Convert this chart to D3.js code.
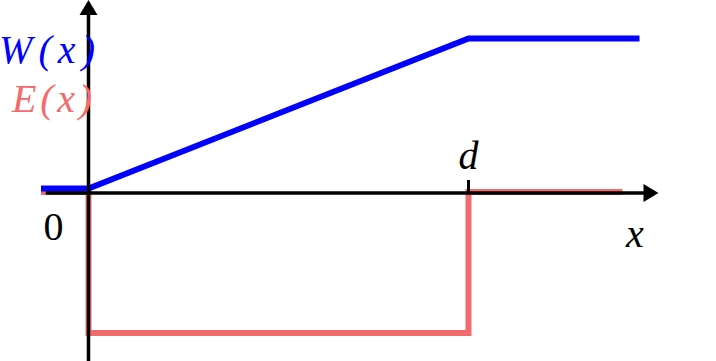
<!DOCTYPE html>
<html>
<head>
<meta charset="utf-8">
<script src="https://cdn.jsdelivr.net/npm/d3@7"></script>
<style>
  body { margin: 0; background: #fff; }
  svg { display: block; }
  text { font-family: "Liberation Serif", "Times New Roman", serif; }
</style>
</head>
<body>
<div id="chart"></div>
<script>
// W(x): ramps from 0 to a plateau at x = d
var wX = [-0.5, 0, 4, 5.8];
var wY = [0.047, 0.047, 1.6, 1.6];
// E(x): negative step between 0 and d
var eX = [-0.5, 0, 0, 4, 4, 5.62];
var eY = [0.01, 0.01, -1.45, -1.45, 0.01, 0.01];
var dValue = 4;

const w = 716;
const h = 361;

var x = d3.scaleLinear().domain([0, dValue]).range([88.5, 468.5]);
var y = d3.scaleLinear().domain([0, 1.6]).range([193, 38.5]);

var svg = d3.select('#chart')
            .append('svg')
            .attr('width', w)
            .attr('height', h);

var line = d3.line()
             .x(function(p) { return x(p[0]); })
             .y(function(p) { return y(p[1]); });

svg.append('path')
   .datum(d3.zip(eX, eY))
   .attr('d', line)
   .attr('fill', 'none')
   .attr('stroke', '#f46b6d')
   .attr('stroke-width', 6)
   .attr('stroke-linejoin', 'miter');

svg.append('path')
   .datum(d3.zip(wX, wY))
   .attr('d', line)
   .attr('fill', 'none')
   .attr('stroke', '#0000ff')
   .attr('stroke-width', 6)
   .attr('stroke-linejoin', 'miter');

// axes
var x0 = x(0), y0 = y(0);
var xEnd = x(6), yTop = y(y.invert(0));

svg.append('line')
   .attr('x1', x(-0.45)).attr('x2', xEnd - 10)
   .attr('y1', y0).attr('y2', y0)
   .attr('stroke', '#000').attr('stroke-width', 3.5);

svg.append('line')
   .attr('x1', x0).attr('x2', x0)
   .attr('y1', h + 5).attr('y2', yTop + 10)
   .attr('stroke', '#000').attr('stroke-width', 3.5);

// arrow heads
svg.append('path')
   .attr('d', 'M' + xEnd + ',' + y0 + 'L' + (xEnd - 15) + ',' + (y0 - 9) +
              'L' + (xEnd - 15) + ',' + (y0 + 9) + 'Z')
   .attr('fill', '#000');

svg.append('path')
   .attr('d', 'M' + x0 + ',' + yTop + 'L' + (x0 - 9) + ',' + (yTop + 15) +
              'L' + (x0 + 9) + ',' + (yTop + 15) + 'Z')
   .attr('fill', '#000');

// tick at d
svg.append('line')
   .attr('x1', x(dValue)).attr('x2', x(dValue))
   .attr('y1', y0 - 13).attr('y2', y0)
   .attr('stroke', '#000').attr('stroke-width', 3);

// labels
svg.append('text')
   .attr('x', -1).attr('y', 63)
   .attr('textLength', 96)
   .attr('font-size', 40)
   .attr('font-style', 'italic')
   .attr('fill', '#0000ff')
   .text('W(x)');

svg.append('text')
   .attr('x', 12).attr('y', 112)
   .attr('textLength', 80)
   .attr('font-size', 40)
   .attr('font-style', 'italic')
   .attr('fill', '#f46b6d')
   .text('E(x)');

svg.append('text')
   .attr('x', 53.5).attr('y', 240)
   .attr('text-anchor', 'middle')
   .attr('font-size', 40)
   .text('0');

svg.append('text')
   .attr('x', x(dValue)).attr('y', 169)
   .attr('text-anchor', 'middle')
   .attr('font-size', 40)
   .attr('font-style', 'italic')
   .text('d');

svg.append('text')
   .attr('x', 635).attr('y', 247)
   .attr('text-anchor', 'middle')
   .attr('font-size', 40)
   .attr('font-style', 'italic')
   .text('x');
</script>
</body>
</html>
